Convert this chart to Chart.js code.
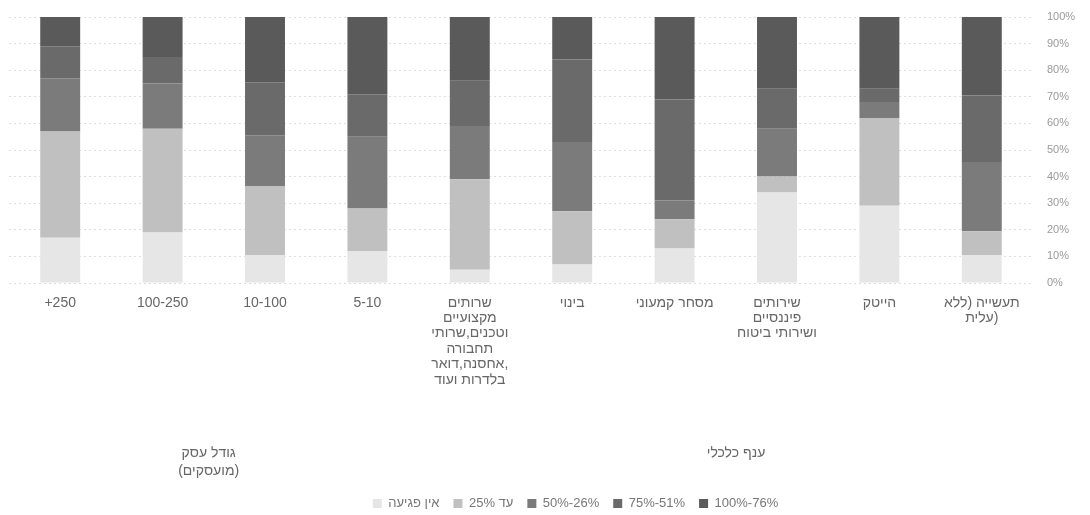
<!DOCTYPE html>
<html dir="ltr">
<head>
<meta charset="utf-8">
<script src="https://cdn.jsdelivr.net/npm/chart.js@4.4.1/dist/chart.umd.min.js"></script>
<style>
  html, body { margin: 0; padding: 0; background: #fff; }
  #wrap { width: 1090px; height: 515px; }
</style>
</head>
<body>
<div id="wrap"><canvas id="chart"></canvas></div>
<script>
// קטגוריות (משמאל לימין כמו בתמונה)
const categories = [
    '+250',
    '100-250',
    '10-100',
    '5-10',
    ['שרותים', 'מקצועיים', 'וטכנים,שרותי', 'תחבורה', 'אחסנה,דואר,', 'בלדרות ועוד'],
    'בינוי',
    'מסחר קמעוני',
    ['שירותים', 'פיננסיים', 'ושירותי ביטוח'],
    'הייטק',
    ['תעשייה (ללא', 'עלית)']
];

const seriesNames = ['אין פגיעה', 'עד 25%', '50%-26%', '75%-51%', '100%-76%'];

// ערכים באחוזים, מלמטה למעלה
const noHarm   = [17, 19, 10.5, 12, 5, 7, 13, 34, 29, 10.5];
const upTo25   = [40, 39, 26, 16, 34, 20, 11, 6, 33, 9];
const p26to50  = [20, 17, 19, 27, 20, 26, 7, 18, 6, 26];
const p51to75  = [12, 10, 20, 16, 17, 31, 38, 15, 5, 25];
const p76to100 = [11, 15, 24.5, 29, 24, 16, 31, 27, 27, 29.5];

const yTicks = [0, 10, 20, 30, 40, 50, 60, 70, 80, 90, 100];

const groupLabels = [
    { lines: ['גודל עסק', '(מועסקים)'], at: 1.45 },
    { lines: ['ענף כלכלי'], at: 6.6 }
];

const colors = ['#e6e6e6', '#c0c0c0', '#7b7b7b', '#6a6a6a', '#5a5a5a'];
const font = "'Liberation Sans', Arial, sans-serif";
const LRM = '\u200E'; // מכריח פסקה משמאל לימין, כמו במקור

const groupLabelPlugin = {
    id: 'groupLabels',
    afterLayout(chart) {
        // המקרא במקור מוזז מעט ימינה
        chart.legend.left += 26;
        chart.legend.right += 26;
    },
    afterDraw(chart) {
        const ctx = chart.ctx;
        const x = chart.scales.x;
        ctx.save();
        ctx.font = '14px ' + font;
        ctx.fillStyle = '#666';
        ctx.textAlign = 'center';
        ctx.textBaseline = 'middle';
        groupLabels.forEach(g => {
            const px = x.getPixelForValue(g.at);
            g.lines.forEach((line, i) => ctx.fillText(LRM + line, px, 453 + i * 18));
        });
        ctx.restore();
    }
};

const seriesData = [noHarm, upTo25, p26to50, p51to75, p76to100];

new Chart(document.getElementById('chart'), {
    type: 'bar',
    data: {
        labels: categories,
        datasets: seriesNames.map((name, i) => ({
            label: name,
            data: seriesData[i],
            backgroundColor: colors[i],
            borderWidth: 0,
            categoryPercentage: 1,
            barPercentage: 0.39
        }))
    },
    options: {
        responsive: true,
        maintainAspectRatio: false,
        animation: false,
        layout: { padding: { left: 9, right: 0, top: 17, bottom: -5 } },
        scales: {
            x: {
                stacked: true,
                grid: { display: false, drawTicks: false },
                border: { display: false },
                ticks: {
                    color: '#666',
                    font: { family: font, size: 14, lineHeight: 1.1 },
                    padding: 12,
                    maxRotation: 0,
                    autoSkip: false,
                    callback(value) {
                        const lbl = this.getLabelForValue(value);
                        return Array.isArray(lbl) ? lbl.map(s => LRM + s) : LRM + lbl;
                    }
                },
                afterFit(axis) { axis.height = 200; }
            },
            y: {
                stacked: true,
                position: 'right',
                min: 0,
                max: 100,
                afterBuildTicks(axis) { axis.ticks = yTicks.map(v => ({ value: v })); },
                grid: { color: 'rgba(0,0,0,0.13)', drawTicks: false },
                border: { display: false, dash: [2, 3] },
                ticks: {
                    color: '#9a9a9a',
                    font: { family: font, size: 11 },
                    padding: 14,
                    callback: v => v + '%'
                },
                afterFit(axis) {
                    axis.width = 57;
                    axis.paddingTop = 0;
                    axis.paddingBottom = 0;
                }
            }
        },
        plugins: {
            legend: {
                position: 'bottom',
                labels: {
                    color: '#777',
                    font: { family: font, size: 13 },
                    boxWidth: 9,
                    boxHeight: 9,
                    padding: 14
                }
            },
            tooltip: { enabled: false }
        }
    },
    plugins: [groupLabelPlugin]
});
</script>
</body>
</html>
